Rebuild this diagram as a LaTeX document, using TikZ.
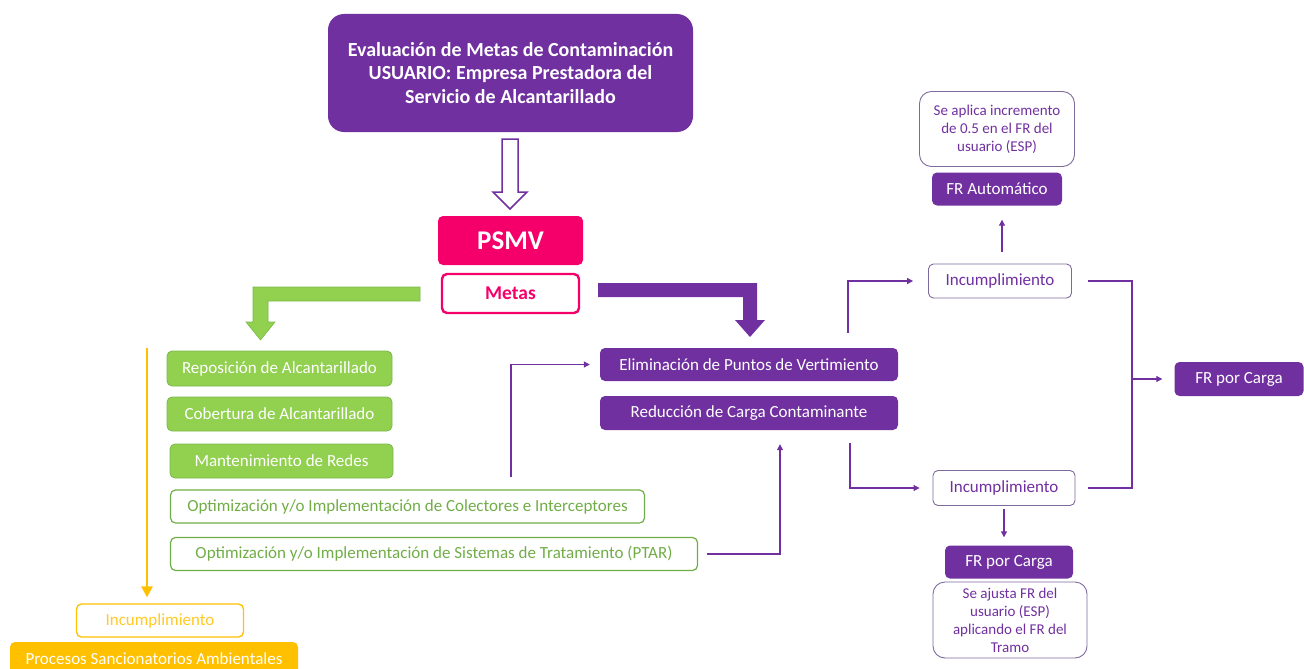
\documentclass[tikz,border=0pt]{standalone}
\usepackage{fontspec}
\setmainfont{Carlito}
\usetikzlibrary{arrows.meta}
\definecolor{epurple}{HTML}{7030A0}
\definecolor{epink}{HTML}{F5006A}
\definecolor{egreen}{HTML}{92D050}
\definecolor{egreenline}{HTML}{70AD47}
\definecolor{eyellow}{HTML}{FFC000}
\definecolor{egray}{HTML}{7E6A9C}
\newcommand{\fsz}[2]{\fontsize{#1}{#2}\selectfont}
\begin{document}
\begin{tikzpicture}[x=1pt, y=-1pt,
    box/.style={rounded corners=5pt, inner sep=0pt, align=center, font=\fsz{17}{20}},
    pfill/.style={box, fill=epurple, text=white},
    gfill/.style={box, fill=egreen, draw=egreenline!70!egreen, line width=0.8pt, text=white},
    gline/.style={box, draw=egreenline, line width=1.2pt, text=egreenline},
    pline/.style={box, draw=egray, line width=0.9pt, text=epurple},
    link/.style={epurple, line width=1.1pt},
    parrow/.style={link, -{Triangle[length=6pt,width=6pt]}}]
  \useasboundingbox (0,0) rectangle (1304,669);

  % User and PSMV
  \node [box, fill=epurple, text=white, rounded corners=16pt, minimum width=365pt, minimum height=118pt,
    font=\bfseries\fsz{20}{23.5}] (title) at (510.5,73)
    {Evaluación de Metas de Contaminación\\USUARIO: Empresa Prestadora del\\Servicio de Alcantarillado};
  \node [box, fill=epink, text=white, minimum width=145pt, minimum height=49pt, font=\bfseries\fsz{27}{30}]
    (psmv) at (510.5,240.5) {PSMV};
  \node [box, draw=epink, line width=2.4pt, text=epink, minimum width=137pt, minimum height=39pt,
    font=\bfseries\fsz{19.5}{22}] (metas) at (510.5,293.5) {Metas};

  % Hollow arrow
  \draw [epurple, line width=1.5pt, fill=white] (502,139) -- (518,139) -- (518,192) -- (527,192)
    -- (510,209) -- (493,192) -- (502,192) -- cycle;

  % Bent arrows
  \draw [fill=egreen, draw=egreenline!70!egreen, line width=0.6pt] (420,287) -- (253,287) -- (253,322)
    -- (246,322) -- (260.5,340) -- (275,322) -- (268,322) -- (268,301) -- (420,301) -- cycle;
  \fill [epurple] (598,283) -- (757,283) -- (757,320) -- (765,320) -- (750,337) -- (735,320)
    -- (743,320) -- (743,297) -- (598,297) -- cycle;

  % Green goals
  \node [gfill, minimum width=225pt, minimum height=35pt] (repos) at (279.5,368.5) {Reposición de Alcantarillado};
  \node [gfill, minimum width=225pt, minimum height=34pt] (cobert) at (279.5,414) {Cobertura de Alcantarillado};
  \node [gfill, minimum width=223pt, minimum height=34pt] (mant) at (281.5,461) {Mantenimiento de Redes};
  \node [gline, minimum width=474pt, minimum height=33pt] (colect) at (407.5,506.5)
    {Optimización y/o Implementación de Colectores e Interceptores};
  \node [gline, minimum width=527pt, minimum height=33pt] (ptar) at (434,554)
    {Optimización y/o Implementación de Sistemas de Tratamiento (PTAR)};

  % Yellow branch
  \coordinate (ytop) at (147,348);
  \node [box, draw=eyellow, line width=1.3pt, text=eyellow!85!white, minimum width=167pt, minimum height=33pt]
    (incy) at (160,620.5) {Incumplimiento};
  \node [box, fill=eyellow, text=white, minimum width=288pt, minimum height=34pt] (proc) at (154,659)
    {Procesos Sancionatorios Ambientales};
  \draw [eyellow, line width=2.6pt, -{Triangle[length=11pt,width=11pt]}, shorten >=6pt]
    (ytop) -- (incy.north -| ytop);

  % Purple goals
  \node [pfill, minimum width=298pt, minimum height=33pt] (elim) at (749,364.5) {Eliminación de Puntos de Vertimiento};
  \node [pfill, minimum width=298pt, minimum height=34pt] (reduc) at (749,413) {Reducción de Carga Contaminante};
  \coordinate (c1) at (511,477);
  \draw [parrow, shorten >=10pt] (c1) |- (elim.west);
  \draw [parrow, shorten <=9pt, shorten >=14pt] (ptar.east) -| ([xshift=31pt]reduc.south);

  % Right side
  \node [pline, minimum width=143pt, minimum height=34pt] (inc1) at (1000,281) {Incumplimiento};
  \node [pline, minimum width=142pt, minimum height=35pt] (inc2) at (1004,488) {Incumplimiento};
  \node [pfill, minimum width=130pt, minimum height=33pt] (fraut) at (997,189) {FR Automático};
  \node [pline, rounded corners=12pt, minimum width=155pt, minimum height=75pt, font=\fsz{15}{18}]
    (aplica) at (997,129) {Se aplica incremento\\de 0.5 en el FR del\\usuario (ESP)};
  \node [pfill, minimum width=129pt, minimum height=34pt] (frc) at (1239,379) {FR por Carga};
  \node [pfill, minimum width=128pt, minimum height=33pt] (frc2) at (1009,562) {FR por Carga};
  \node [pline, rounded corners=12pt, minimum width=154pt, minimum height=76pt, font=\fsz{15}{18}]
    (ajusta) at (1010,620) {Se ajusta FR del\\usuario (ESP)\\aplicando el FR del\\Tramo};

  \draw [parrow, shorten <=15pt, shorten >=15pt] ([xshift=99pt]elim.north) |- (inc1.west);
  \draw [parrow, shorten <=13pt, shorten >=13pt] ([xshift=101pt]reduc.south) |- (inc2.west);
  \coordinate (j) at (1132,379);
  \draw [link, shorten <=16pt] (inc1.east) -| (j);
  \draw [link, shorten <=13pt] (inc2.east) -| (j);
  \draw [parrow, shorten >=12pt] (j) -- (frc.west);
  \draw [parrow, shorten <=12pt, shorten >=14pt] (inc1.north -| 1002,0) -- (fraut.south -| 1002,0);
  \draw [parrow, shorten <=3pt, shorten >=8pt] (inc2.south) -- (frc2.north -| inc2.south);
\end{tikzpicture}
\end{document}
